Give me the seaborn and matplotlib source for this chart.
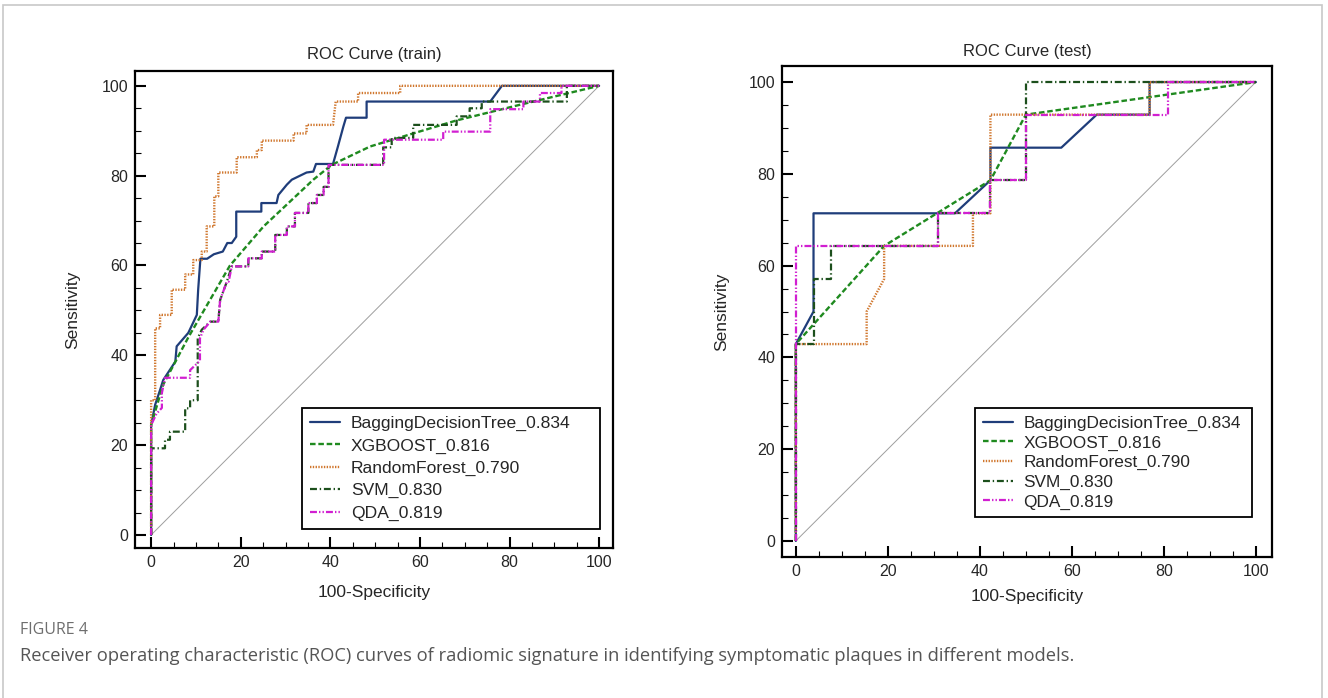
import numpy as np
import pandas as pd
import matplotlib
matplotlib.use("Agg")
import matplotlib.pyplot as plt
import seaborn as sns
from matplotlib.ticker import MultipleLocator
from matplotlib.patches import Rectangle

# ---------------- data (percent) ----------------
labels = ["BaggingDecisionTree_0.834", "XGBOOST_0.816", "RandomForest_0.790",
          "SVM_0.830", "QDA_0.819"]
tick_values = [0, 20, 40, 60, 80, 100]

# train
bag_train_fpr = [0, 0, 0.9, 2, 2.7, 5.4, 5.7, 8.3, 10.2, 10.5, 11, 12.5, 14, 16, 17, 18, 19, 19, 24.6, 24.6,
                 28, 28.4, 30.3, 31.4, 34.7, 36.2, 36.8, 40.6, 41.7, 42.9, 43.5, 48.1, 48.1, 75.7, 78.3, 100]
bag_train_tpr = [0, 24.5, 29, 32.3, 34.5, 38.6, 42, 45, 49, 54.6, 61.5, 61.5, 62.5, 63.1, 65, 65, 66.4, 72, 72, 73.9,
                 73.9, 75.7, 78, 79.1, 80.7, 80.9, 82.6, 82.6, 86.5, 90.9, 92.9, 92.9, 96.5, 96.5, 100, 100]
xgb_train_fpr = [0, 0, 2.7, 8.3, 17.6, 25.1, 36.2, 40.3, 48.9, 58.5, 68.2, 82.4, 100]
xgb_train_tpr = [0, 24.5, 33.5, 44, 60, 68.7, 79.1, 82.4, 86.5, 89.4, 92.3, 95.8, 100]
rf_train_fpr = [0, 0, 0.9, 0.9, 2, 2, 4.6, 4.6, 7.6, 7.6, 9.4, 9.4, 11.3, 11.3, 12.4, 12.4, 14.1, 14.1, 15, 15,
                19.1, 19.1, 23.6, 23.6, 24.7, 24.7, 31.8, 31.8, 34.7, 34.7, 40.6, 41.2, 46.2, 46.2, 55.6, 55.6, 100]
rf_train_tpr = [0, 30, 30, 46, 46, 49, 49, 54.6, 54.6, 58, 58, 61.2, 61.2, 63.1, 63.1, 68.7, 68.7, 75.4, 75.4, 80.7,
                80.7, 84.1, 84.1, 85.7, 85.7, 87.8, 87.8, 89.4, 89.4, 91.3, 91.3, 96.5, 96.5, 98.4, 98.4, 100, 100]
svm_train_fpr = [0, 0, 3.1, 3.1, 4.2, 4.2, 7.6, 7.6, 8.7, 8.7, 10.4, 10.4, 11.3, 13.2, 15, 15.4, 16.9, 18, 21.7, 21.7,
                 24.7, 24.7, 27.7, 27.7, 30.3, 30.3, 32.1, 32.1, 35.1, 35.1, 37, 37, 38.5, 38.5, 39.6, 39.6, 51.8, 51.8,
                 53.7, 53.7, 58.5, 58.5, 68.2, 68.2, 71.1, 71.1, 73.8, 73.8, 92.8, 92.8, 100]
svm_train_tpr = [0, 19.3, 19.3, 21.2, 21.2, 23, 23, 28.2, 28.2, 30, 30, 43.8, 45.7, 47.5, 47.5, 52.3, 56.4, 59.8, 59.8,
                 61.6, 61.6, 63.1, 63.1, 66.8, 66.8, 68.7, 68.7, 71.7, 71.7, 73.9, 73.9, 75.7, 75.7, 77.5, 77.5, 82.4,
                 82.4, 86.3, 86.3, 88.4, 88.4, 91.3, 91.3, 93.2, 93.2, 95, 95, 96.5, 96.5, 100, 100]
qda_train_fpr = [0, 0, 1.2, 2.4, 2.4, 3.1, 8.7, 8.7, 10.9, 10.9, 11.7, 13.2, 15, 15.4, 16.9, 17.3, 18, 21.7, 21.7, 24.7,
                 24.7, 27.7, 27.7, 30.3, 30.3, 32.1, 32.1, 35.1, 35.1, 37, 37, 38.5, 38.5, 39.6, 39.6, 52, 52, 65.2,
                 65.2, 75.7, 75.7, 83.1, 83.1, 86.8, 86.8, 91.6, 91.6, 100]
qda_train_tpr = [0, 24.5, 27, 28.3, 31.6, 35, 35, 36.7, 38.8, 43.8, 45.7, 47.5, 47.5, 52.3, 56.4, 56.4, 59.8, 59.8, 61.6,
                 61.6, 63.1, 63.1, 66.8, 66.8, 68.7, 68.7, 71.7, 71.7, 73.9, 73.9, 75.7, 75.7, 77.5, 77.5, 82.4, 82.4,
                 88, 88, 89.8, 89.8, 94.8, 94.8, 96.5, 96.5, 98.4, 98.4, 100, 100]

# test
bag_test_fpr = [0, 0, 3.85, 3.85, 34.6, 42.3, 42.3, 57.7, 65.4, 76.9, 76.9, 100]
bag_test_tpr = [0, 42.9, 50, 71.4, 71.4, 78.6, 85.7, 85.7, 92.9, 92.9, 100, 100]
xgb_test_fpr = [0, 0, 19.2, 42.3, 50, 100]
xgb_test_tpr = [0, 42.9, 64.3, 78.6, 92.9, 100]
rf_test_fpr = [0, 0, 15.4, 15.4, 19.2, 19.2, 38.5, 38.5, 42.3, 42.3, 76.9, 76.9, 100]
rf_test_tpr = [0, 42.9, 42.9, 50, 57.1, 64.3, 64.3, 71.4, 71.4, 92.9, 92.9, 100, 100]
svm_test_fpr = [0, 0, 3.85, 3.85, 7.7, 7.7, 30.8, 30.8, 42.3, 42.3, 50, 50, 100]
svm_test_tpr = [0, 42.9, 42.9, 57.1, 57.1, 64.3, 64.3, 71.4, 71.4, 78.6, 78.6, 100, 100]
qda_test_fpr = [0, 0, 30.8, 30.8, 42.3, 42.3, 50, 50, 80.8, 80.8, 100]
qda_test_tpr = [0, 64.3, 64.3, 71.4, 71.4, 78.6, 78.6, 92.9, 92.9, 100, 100]

# ---------------- style ----------------
sns.set_style("ticks")
plt.rcParams["font.family"] = ["Liberation Sans", "DejaVu Sans"]
plt.rcParams["lines.scale_dashes"] = False

colors = ["#1f3d7a", "#1f8a1f", "#d0772e", "#1c4f1c", "#d11fd1"]
styles = ["-", (0, (4, 2)), (0, (1, 1)), (0, (5, 2, 1, 2)), (0, (5, 1.5, 1, 1.5, 1, 1.5))]
lws = [1.6, 1.7, 1.7, 1.6, 1.6]

fig = plt.figure(figsize=(13.28, 6.98), dpi=100)
W, H = 1328, 698
ax1 = fig.add_axes([135 / W, 1 - 548 / H, 478 / W, 477 / H])
ax2 = fig.add_axes([782 / W, 1 - 557 / H, 490 / W, 491 / H])

panels = [
    (ax1, "ROC Curve (train)",
     [(bag_train_fpr, bag_train_tpr), (xgb_train_fpr, xgb_train_tpr), (rf_train_fpr, rf_train_tpr),
      (svm_train_fpr, svm_train_tpr), (qda_train_fpr, qda_train_tpr)],
     (-3.6, 103.1), (-2.9, 103.3), (0.349, 0.0, 0.623, 0.2935), 12.6, 0.40, 9.0),
    (ax2, "ROC Curve (test)",
     [(bag_test_fpr, bag_test_tpr), (xgb_test_fpr, xgb_test_tpr), (rf_test_fpr, rf_test_tpr),
      (svm_test_fpr, svm_test_tpr), (qda_test_fpr, qda_test_tpr)],
     (-3.0, 103.5), (-3.5, 103.5), (0.394, 0.0, 0.565, 0.3035), 12.4, 0.26, 7.0),
]

for ax, title, series, xl, yl, anchor, lfs, lsp, tpad in panels:
    sns.lineplot(x=[0, 100], y=[0, 100], ax=ax, color="#9e9e9e", linewidth=0.7)
    for (fx, ty), lab, c, ls, lw in zip(series, labels, colors, styles, lws):
        sns.lineplot(x=fx, y=ty, ax=ax, color=c, linestyle=ls, linewidth=lw,
                     sort=False, estimator=None, label=lab)
    ax.set_xlim(*xl)
    ax.set_ylim(*yl)
    ax.set_xticks(tick_values)
    ax.set_yticks(tick_values)
    ax.xaxis.set_minor_locator(MultipleLocator(5))
    ax.yaxis.set_minor_locator(MultipleLocator(5))
    ax.tick_params(which="major", direction="in", length=8, width=1.5, labelsize=11.5, pad=5, color="black")
    ax.tick_params(which="minor", direction="in", length=4.5, width=0.8, color="black")
    for sp in ax.spines.values():
        sp.set_visible(True)
        sp.set_linewidth(1.6)
        sp.set_color("black")
    ax.set_title(title, fontsize=12, pad=tpad)
    ax.set_xlabel("100-Specificity", fontsize=12.5)
    ax.set_ylabel("Sensitivity", fontsize=12.5)
    ax.grid(False)
    leg = ax.legend(loc="upper left", bbox_to_anchor=anchor, mode="expand", borderaxespad=0, fontsize=lfs,
                    frameon=True, fancybox=False, framealpha=1, edgecolor="black",
                    handlelength=1.75, handletextpad=0.6, labelspacing=lsp, borderpad=0.45)
    leg.get_frame().set_linewidth(1.3)

ax1.xaxis.set_label_coords(0.5, -0.078)
ax1.yaxis.set_label_coords(-0.114, 0.5)
ax2.xaxis.set_label_coords(0.5, -0.066)
ax2.yaxis.set_label_coords(-0.108, 0.5)

# caption
fig.text(20 / W, 1 - 630 / H, "FIGURE 4", fontsize=11.5, color="#6e6e6e", va="center", ha="left",
         family=["Open Sans", "DejaVu Sans"])
fig.text(20 / W, 1 - 656 / H,
         "Receiver operating characteristic (ROC) curves of radiomic signature in identifying symptomatic plaques in different models.",
         fontsize=13.2, color="#555555", va="center", ha="left", family=["Open Sans", "DejaVu Sans"])

# outer frame
fig.patches.append(Rectangle((3 / W, -0.02), 1319 / W, 1 - 5 / H + 0.02, transform=fig.transFigure,
                             fill=False, edgecolor="#c8c8c8", linewidth=1.2))

fig.savefig("out.png", dpi=100)
